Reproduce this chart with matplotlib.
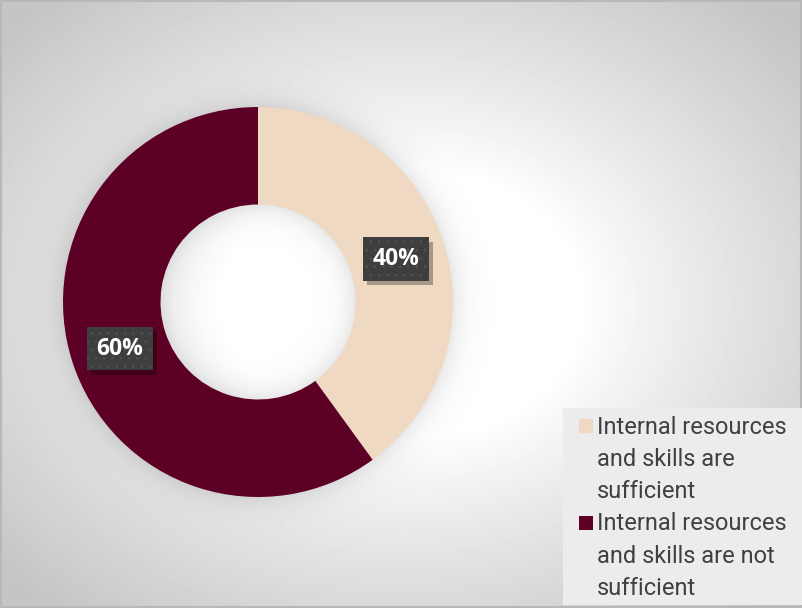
import matplotlib.pyplot as plt
import numpy as np
import matplotlib.patheffects as pe

labels = ['Internal resources\nand skills are\nsufficient',
          'Internal resources\nand skills are not\nsufficient']
values = [40, 60]
colors = ['#EFD9C3', '#5C0025']

W, H = 802, 608
cx, cy, r_out, r_in = 258, 302, 195, 97

fig = plt.figure(figsize=(W / 100, H / 100), dpi=100)

# radial grey-to-white background with a soft glow round the ring
bg = fig.add_axes([0, 0, 1, 1])
yy, xx = np.mgrid[0:H, 0:W] + 0.5
u = (xx - 401) / 401
v = (yy - 304) / 304
r = np.sqrt(u ** 2 + v ** 2)
shade = 1 - 0.15 * np.clip((r - 0.45) / 0.55, 0, None) ** 0.9
shade = np.clip(shade, 0.77, 1)
dr = np.sqrt((xx - cx) ** 2 + (yy - cy) ** 2)
gap = np.where(dr > r_out, dr - r_out, np.where(dr < r_in, r_in - dr, 0))
shade = shade - 0.09 * np.exp(-gap / 13)
bg.imshow(shade, cmap='gray', vmin=0, vmax=1, aspect='auto',
          extent=[0, W, H, 0], interpolation='bilinear')
bg.set_xlim(0, W)
bg.set_ylim(H, 0)
bg.axis('off')
bg.add_patch(plt.Rectangle((1, 1), W - 2, H - 2, fill=False,
                           edgecolor='#b8b8b8', lw=1.5))

# legend panel
bg.add_patch(plt.Rectangle((563, 408), W - 563, 197, facecolor='#ececec',
                           edgecolor='none'))
line_h = 32.3
for i, (lab, c) in enumerate(zip(labels, colors)):
    y0 = 426 + i * 3 * line_h
    bg.add_patch(plt.Rectangle((579, y0 - 7), 14, 14, facecolor=c,
                               edgecolor='none'))
    for j, line in enumerate(lab.split('\n')):
        bg.text(597, y0 + j * line_h + 1, line, ha='left', va='center',
                fontsize=17, family='Roboto', color='#404040')

# donut
ax = fig.add_axes([(cx - r_out) / W, (H - cy - r_out) / H,
                   2 * r_out / W, 2 * r_out / H])
wedges, _ = ax.pie(values, colors=colors, startangle=90, counterclock=False,
                   radius=1.0, wedgeprops=dict(width=0.5, edgecolor='none'))
ax.set_xlim(-1, 1)
ax.set_ylim(-1, 1)
ax.set_aspect('equal')
ax.axis('off')

plt.rcParams['hatch.linewidth'] = 0.8
shadow = [pe.withSimplePatchShadow(offset=(3, -3), shadow_rgbFace='#000000',
                                   alpha=0.3)]
for w, val in zip(wedges, values):
    ang = np.deg2rad((w.theta1 + w.theta2) / 2)
    rr = 0.745
    x, y = rr * np.cos(ang), rr * np.sin(ang) - 0.01
    txt = dict(ha='center', va='center', fontsize=16.5, fontweight='bold',
               family='Open Sans')
    # plain box carrying the drop shadow
    ax.text(x, y, f'{val}%', color='none', **txt,
            bbox=dict(boxstyle='square,pad=0.42', fc='#3e3e3e', ec='none',
                      path_effects=shadow))
    # dotted box with the value on top
    ax.text(x, y, f'{val}%', color='white', **txt,
            bbox=dict(boxstyle='square,pad=0.42', fc='#3e3e3e', ec='#4f4f4f',
                      lw=0, hatch='..'))

fig.savefig('out.png', dpi=100)
